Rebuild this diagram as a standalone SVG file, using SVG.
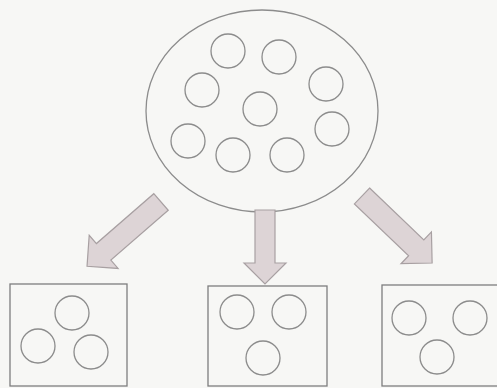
<svg xmlns="http://www.w3.org/2000/svg" width="497" height="388" viewBox="0 0 497 388">
<style>
.ln{fill:none;stroke:#8c8c8c;stroke-width:1.3}
.bx{fill:none;stroke:#7e7e7e;stroke-width:1.3}
.ar{fill:#ddd4d6;stroke:#a8a0a2;stroke-width:1.2;stroke-linejoin:miter}
</style>
<defs>
<circle id="c" r="17" class="ln"/>
</defs>
<rect x="0" y="0" width="497" height="388" fill="#f7f7f5"/>
<g id="set">
<ellipse cx="262" cy="111" rx="116" ry="101" class="ln"/>
<use href="#c" x="228" y="51"/>
<use href="#c" x="279" y="57"/>
<use href="#c" x="326" y="84"/>
<use href="#c" x="202" y="90"/>
<use href="#c" x="260" y="109"/>
<use href="#c" x="332" y="129"/>
<use href="#c" x="188" y="141"/>
<use href="#c" x="233" y="155"/>
<use href="#c" x="287" y="155"/>
</g>
<g id="connectors">
<polygon class="ar" transform="translate(161,202) rotate(139)" points="0,-11 76,-11 76,-22 98,0 76,22 76,11 0,11"/>
<polygon class="ar" transform="translate(265,210) rotate(90)" points="0,-10 53,-10 53,-21 74,0 53,21 53,10 0,10"/>
<polygon class="ar" transform="translate(362,196) rotate(43.7)" points="0,-11 75,-11 75,-22 97,0 75,22 75,11 0,11"/>
</g>
<g id="subset1">
<rect x="10" y="284" width="117" height="102" class="bx"/>
<use href="#c" x="72" y="313"/>
<use href="#c" x="38" y="346"/>
<use href="#c" x="91" y="352"/>
</g>
<g id="subset2">
<rect x="208" y="286" width="119" height="100" class="bx"/>
<use href="#c" x="237" y="312"/>
<use href="#c" x="289" y="312"/>
<use href="#c" x="263" y="358"/>
</g>
<g id="subset3">
<rect x="382" y="285" width="120" height="101" class="bx"/>
<use href="#c" x="409" y="318"/>
<use href="#c" x="470" y="318"/>
<use href="#c" x="437" y="357"/>
</g>
</svg>
